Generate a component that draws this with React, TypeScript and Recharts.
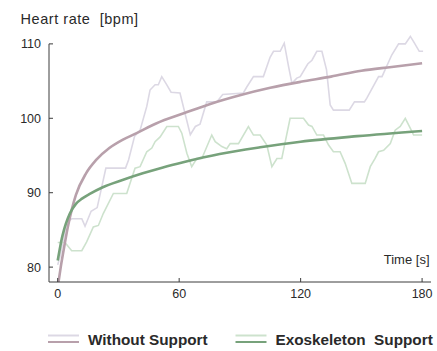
import { Label, Legend, Line, LineChart, ReferenceLine, XAxis, YAxis } from "recharts"

// heart rate over time, with and without exoskeleton support:
// raw traces drawn light, the fitted trend curves drawn on top

const FONT = '"Liberation Sans", Arial, Helvetica, sans-serif'
const AXIS = "#3c3c3c"
const TEXT = "#2a2a2a"
const RAW_WITHOUT = "#dcd8e4"
const FIT_WITHOUT = "#b8a0ab"
const RAW_EXO = "#cde2cd"
const FIT_EXO = "#77a27b"

const timeTicks = [0, 60, 120, 180]
const bpmTicks = [80, 90, 100, 110]

const withoutRawTime = [
  0, 1.1, 4.4, 6.9, 11.9, 13.5, 16.5, 19.5, 23.8, 33.5, 35, 38, 40.7, 44, 45.6, 48.1, 49.7,
  51.4, 53.9, 56, 60.4, 65.5, 68, 70.3, 73.6, 78.6, 81.5, 91.7, 93.4, 96.7, 101.6, 104.9,
  106.6, 109.9, 111.9, 114, 115.7, 118.1, 119.8, 123.5, 125.6, 128, 130.5, 132.8, 134.6,
  136.2, 144, 146.6, 151.5, 152.7, 158.5, 160.2, 165, 168.4, 171.7, 174.2, 175.8, 178.6, 180.5,
]
const withoutRawBpm = [
  80.3, 81.4, 86, 86.5, 86.5, 85.5, 87.5, 88, 93.3, 93.3, 94.4, 97.6, 98.4, 101.6, 103.8,
  104.5, 104.5, 105.6, 104.5, 103.5, 103.4, 97.8, 98.9, 99.2, 102.2, 102.2, 103.2, 103.4,
  104.2, 105.6, 105.6, 108.2, 109, 109, 110.1, 107, 104.7, 105.4, 105.6, 107.3, 107.8, 109,
  109, 106.5, 101.8, 101.1, 101.1, 102.2, 102.2, 102.7, 105.6, 105.6, 108.5, 110, 110, 111,
  110.3, 109, 109,
]

const exoRawTime = [
  0, 3.6, 6.9, 11.9, 14.3, 17.6, 20.1, 22.5, 27.5, 34.1, 35.7, 38.2, 40.7, 44, 46.5, 48.1,
  50.6, 53.9, 59.6, 61.3, 63.8, 66.2, 68.7, 71.2, 76.1, 77.8, 81.1, 83.5, 85.2, 89.3, 94.2,
  96.7, 100, 103.3, 105.8, 108.3, 110.7, 114.8, 121.4, 123.9, 125.6, 128, 131.3, 133.8,
  136.2, 139.5, 142, 145.3, 151.9, 154.4, 156.8, 158.5, 161, 164.3, 166.7, 169.2, 171.7,
  174.2, 175.8, 180,
]
const exoRawBpm = [
  83.3, 83.3, 82.2, 82.2, 83.4, 85.4, 85.6, 87.2, 89.9, 89.9, 91.25, 93.3, 93.5, 95.5, 96,
  96.85, 97.5, 98.9, 98.9, 98, 95.3, 93.5, 94.6, 94.6, 97.75, 96.85, 96.2, 95.9, 96.6, 96.6,
  98.9, 97.75, 97.75, 96.4, 93.5, 94.6, 94.6, 100, 100, 99.1, 98.9, 97.75, 97.75, 96.4, 95.5,
  95.5, 93.95, 91.25, 91.25, 93.5, 94.6, 95.5, 95.7, 96.6, 98.4, 98.9, 100, 98.65, 97.75, 97.75,
]

const withoutFitTime = [0.4, 1.5, 3, 5, 7, 9, 14, 19, 25.5, 32, 39, 48.6, 62.6, 75, 90, 105, 120, 135, 150, 165, 180]
const withoutFitBpm = [
  78, 80, 82.4, 85.4, 87.8, 89.7, 92.6, 94.4, 96, 97.1, 98, 99.3, 100.7, 101.9, 103.1, 104.1,
  104.9, 105.6, 106.4, 106.9, 107.4,
]

const exoFitTime = [0, 1, 2, 3, 4, 6, 9, 12, 15.6, 22, 32, 42, 52, 62, 80, 100, 120, 148, 180]
const exoFitBpm = [
  80.9, 82.4, 83.8, 84.9, 85.8, 87.2, 88.5, 89.2, 89.8, 90.7, 91.7, 92.6, 93.4, 94.1, 95.2,
  96.1, 96.85, 97.6, 98.3,
]

function pairs(time: number[], bpm: number[]) {
  return time.map((t, i) => ({ t, v: bpm[i] }))
}

const withoutRaw = pairs(withoutRawTime, withoutRawBpm)
const exoRaw = pairs(exoRawTime, exoRawBpm)
const withoutFit = pairs(withoutFitTime, withoutFitBpm)
const exoFit = pairs(exoFitTime, exoFitBpm)

function LegendBox() {
  const item = (x: number, raw: string, fit: string, text: string) => (
    <g>
      <line x1={x} x2={x + 31} y1={17.5} y2={17.5} stroke={raw} strokeWidth={2} />
      <line x1={x} x2={x + 31} y1={24} y2={24} stroke={fit} strokeWidth={2} />
      <text
        x={x + 40}
        y={26.5}
        fill={TEXT}
        fontSize={15.3}
        fontWeight="bold"
        fontFamily={FONT}
        style={{ whiteSpace: "pre" }}
      >
        {text}
      </text>
    </g>
  )
  return (
    <svg width={437} height={33} style={{ display: "block" }}>
      {item(48, RAW_WITHOUT, FIT_WITHOUT, "Without Support")}
      {item(235.5, RAW_EXO, FIT_EXO, "Exoskeleton  Support")}
    </svg>
  )
}

export default function App() {
  const tick = { fill: TEXT, fontSize: 12.5, fontFamily: FONT }
  return (
    <div style={{ position: "absolute", left: 0, top: 0, width: 437, height: 351, background: "#fff" }}>
      <LineChart width={437} height={351} margin={{ top: 29, right: 6, bottom: 39, left: 0 }}>
        <XAxis
          type="number"
          dataKey="t"
          domain={[-4.3, 184.4]}
          ticks={timeTicks}
          interval={0}
          allowDataOverflow
          height={30}
          stroke={AXIS}
          tickSize={-4}
          tickMargin={11}
          tick={tick}
        >
          <Label
            content={({ viewBox }: any) => (
              <text
                x={viewBox.x + viewBox.width - 1.5}
                y={viewBox.y - 18}
                textAnchor="end"
                fill={TEXT}
                fontSize={13}
                fontFamily={FONT}
              >
                Time [s]
              </text>
            )}
          />
        </XAxis>
        <YAxis
          type="number"
          domain={[78, 112]}
          ticks={bpmTicks}
          interval={0}
          allowDataOverflow
          width={49}
          axisLine={false}
          tickLine={{ stroke: AXIS }}
          tickSize={-4}
          tickMargin={12}
          tick={tick}
        >
          <Label
            content={({ viewBox }: any) => (
              <text
                x={viewBox.x + 20.5}
                y={viewBox.y - 5}
                fill={TEXT}
                fontSize={14.5}
                letterSpacing={0.55}
                fontFamily={FONT}
                style={{ whiteSpace: "pre" }}
              >
                Heart rate  [bpm]
              </text>
            )}
          />
        </YAxis>
        <ReferenceLine
          segment={[
            { x: -4.3, y: 78 },
            { x: -4.3, y: 110 },
          ]}
          stroke={AXIS}
          ifOverflow="visible"
        />
        <Line data={withoutRaw} dataKey="v" type="linear" stroke={RAW_WITHOUT} strokeWidth={1.6} dot={false} activeDot={false} isAnimationActive={false} />
        <Line data={exoRaw} dataKey="v" type="linear" stroke={RAW_EXO} strokeWidth={1.6} dot={false} activeDot={false} isAnimationActive={false} />
        <Line data={withoutFit} dataKey="v" type="monotone" stroke={FIT_WITHOUT} strokeWidth={2.6} dot={false} activeDot={false} isAnimationActive={false} />
        <Line data={exoFit} dataKey="v" type="monotone" stroke={FIT_EXO} strokeWidth={2.6} dot={false} activeDot={false} isAnimationActive={false} />
        <Legend
          layout="horizontal"
          verticalAlign="middle"
          align="center"
          wrapperStyle={{ top: 318, left: 0, width: 437, height: 33 }}
          content={() => <LegendBox />}
        />
      </LineChart>
    </div>
  )
}
